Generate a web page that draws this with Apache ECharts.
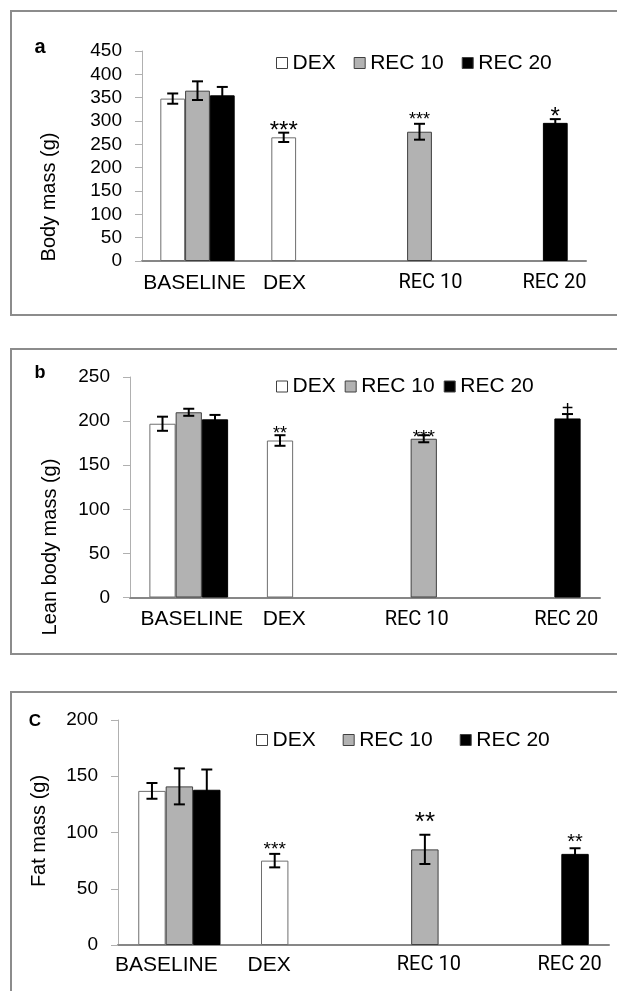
<!DOCTYPE html>
<html><head><meta charset="utf-8">
<script src="https://cdn.jsdelivr.net/npm/echarts@6/dist/echarts.min.js"></script>
<style>html,body{margin:0;padding:0;background:#fff;overflow:hidden}#c{width:617px;height:991px}</style>
</head><body><div id="c"></div>
<script>
// ---------- data ----------
const categories = ['BASELINE', 'DEX', 'REC 10', 'REC 20'];
const seriesNames = ['DEX', 'REC 10', 'REC 20'];

const ticksBody = [0, 50, 100, 150, 200, 250, 300, 350, 400, 450];
const ticksLean = [0, 50, 100, 150, 200, 250];
const ticksFat = [0, 50, 100, 150, 200];

const bodyDex = [348, 265, null, null];
const bodyDexErr = [11, 10, null, null];
const bodyRec10 = [365, null, 277, null];
const bodyRec10Err = [20, null, 17, null];
const bodyRec20 = [355, null, null, 296];
const bodyRec20Err = [18, null, null, 8];
const bodySig = [['', '***', '', ''], ['', '', '***', ''], ['', '', '', '*']];

const leanDex = [197, 178, null, null];
const leanDexErr = [8, 6, null, null];
const leanRec10 = [210, null, 180, null];
const leanRec10Err = [4, null, 4, null];
const leanRec20 = [202, null, null, 203];
const leanRec20Err = [5, null, null, 5];
const leanSig = [['', '**', '', ''], ['', '', '***', ''], ['', '', '', '+']];

const fatDex = [137, 75, null, null];
const fatDexErr = [7, 6, null, null];
const fatRec10 = [141, null, 85, null];
const fatRec10Err = [16, null, 13, null];
const fatRec20 = [138, null, null, 81];
const fatRec20Err = [18, null, null, 5];
const fatSig = [['', '***', '', ''], ['', '', '**', ''], ['', '', '', '**']];

// ---------- styles / layout ----------
const GAP = 0.33;
const FONT = "'Liberation Sans', Arial, sans-serif";
const FONT2 = "Roboto, 'Liberation Sans', sans-serif";
const panels = [
  { grid: {left: 142, top: 51, width: 444, height: 210}, ticks: ticksBody,
    vals: [bodyDex, bodyRec10, bodyRec20], errs: [bodyDexErr, bodyRec10Err, bodyRec20Err], sig: bodySig,
    sigFont: [24, 18, 24], sigOff: [1, 3.6, 1.3], shift: [-3, -24, 11, 24], labelMargin: 12,
    legend: {left: 276, top: 52.5, itemGap: 18},
    title: 'Body mass (g)', titlePos: [49, 197], letter: 'a', letterPos: [40, 47], letterSize: 20,
    box: [11, 11, 630, 304] },
  { grid: {left: 130, top: 377, width: 470, height: 220.5}, ticks: ticksLean,
    vals: [leanDex, leanRec10, leanRec20], errs: [leanDexErr, leanRec10Err, leanRec20Err], sig: leanSig,
    sigFont: [18, 19, 20], sigOff: [0.9, -2.2, 5], shift: [3, -22, -7, 25], labelMargin: 12,
    legend: {left: 276, top: 376, itemGap: 9},
    title: 'Lean body mass (g)', titlePos: [50, 547], letter: 'b', letterPos: [40, 373], letterSize: 18,
    box: [11, 349, 630, 305] },
  { grid: {left: 118, top: 720, width: 491, height: 225}, ticks: ticksFat,
    vals: [fatDex, fatRec10, fatRec20], errs: [fatDexErr, fatRec10Err, fatRec20Err], sig: fatSig,
    sigFont: [19, 26, 20], sigOff: [3.8, 11.6, 6], shift: [-13, -33, 4, 22], labelMargin: 10,
    legend: {left: 256, top: 729.5, itemGap: 27},
    title: 'Fat mass (g)', titlePos: [39, 831], letter: 'C', letterPos: [35, 721], letterSize: 17,
    box: [11, 692, 630, 320] }
];
const barStyles = [
  {color: '#ffffff', borderColor: '#6e6e6e', borderWidth: 1},
  {color: '#b2b2b2', borderColor: '#404040', borderWidth: 1},
  {color: '#000000', borderColor: '#000000', borderWidth: 1}
];

function errRender(p) {
  return function (params, api) {
    const cat = api.value(0), val = api.value(1), err = api.value(2), k = api.value(3);
    const band = api.size([1, 0])[0];
    const bw = band * (1 - GAP) / 3;
    const cx = api.coord([cat, val])[0] + (k - 1) * bw;
    const yTop = api.coord([cat, val + err])[1];
    const yBot = api.coord([cat, val - err])[1];
    const h = 5.5;
    const st = {stroke: '#000', lineWidth: 2};
    const children = [
      {type: 'line', shape: {x1: cx, y1: yTop, x2: cx, y2: yBot}, style: st},
      {type: 'line', shape: {x1: cx - h, y1: yTop, x2: cx + h, y2: yTop}, style: st},
      {type: 'line', shape: {x1: cx - h, y1: yBot, x2: cx + h, y2: yBot}, style: st}
    ];
    const s = p.sig[k][cat];
    if (s) {
      children.push({type: 'text', x: cx, y: yTop - p.sigOff[k],
        style: {text: s, fontSize: p.sigFont[k], fill: '#000', align: 'center', verticalAlign: 'middle', fontFamily: FONT}});
    }
    return {type: 'group', children: children};
  };
}

const option = {animation: false, grid: [], xAxis: [], yAxis: [], series: [], legend: [], graphic: []};

panels.forEach(function (p, i) {
  option.grid.push(Object.assign({containLabel: false, outerBoundsMode: 'none'}, p.grid));
  const rich = {};
  p.shift.forEach(function (s, j) {
    rich['s' + j] = {
      fontSize: j >= 2 ? 20 : 21, color: '#000', lineHeight: 20,
      fontFamily: j >= 2 ? FONT2 : FONT,
      padding: s < 0 ? [0, -2 * s, 0, 0] : [0, 0, 0, 2 * s]
    };
  });
  option.xAxis.push({
    type: 'category', gridIndex: i, data: categories,
    axisLine: {lineStyle: {color: '#878787', width: 2}},
    axisTick: {show: false},
    axisLabel: {interval: 0, margin: p.labelMargin, formatter: function (v, j) { return '{s' + j + '|' + v + '}'; }, rich: rich}
  });
  option.yAxis.push({
    type: 'value', gridIndex: i, min: p.ticks[0], max: p.ticks[p.ticks.length - 1], interval: p.ticks[1] - p.ticks[0],
    axisLine: {show: true, lineStyle: {color: '#b0b0b0', width: 1}},
    axisTick: {show: true, length: 7, lineStyle: {color: '#b0b0b0'}},
    splitLine: {show: false},
    axisLabel: {margin: 20, fontSize: 19, color: '#000', fontFamily: FONT}
  });
  seriesNames.forEach(function (n, k) {
    option.series.push({
      type: 'bar', name: n, xAxisIndex: i, yAxisIndex: i, data: p.vals[k],
      barGap: '0%', barCategoryGap: (GAP * 100) + '%', itemStyle: barStyles[k], silent: true
    });
  });
  const errData = [];
  p.vals.forEach(function (arr, k) {
    arr.forEach(function (v, c) { if (v != null) errData.push([c, v, p.errs[k][c], k]); });
  });
  option.series.push({
    type: 'custom', xAxisIndex: i, yAxisIndex: i, data: errData, encode: {x: 0, y: 1},
    renderItem: errRender(p), z: 5, silent: true
  });
  option.legend.push({
    left: p.legend.left, top: p.legend.top, itemGap: p.legend.itemGap, padding: 0,
    orient: 'horizontal', data: seriesNames, icon: 'rect', itemWidth: 11, itemHeight: 11,
    selectedMode: false,
    itemStyle: {borderColor: '#404040', borderWidth: 1},
    textStyle: {fontSize: 21, color: '#000', fontFamily: FONT}
  });
  option.graphic.push({type: 'rect', shape: {x: p.box[0], y: p.box[1], width: p.box[2], height: p.box[3]},
    style: {fill: 'none', stroke: '#8c8c8c', lineWidth: 2}, silent: true, z: -10});
  option.graphic.push({type: 'text', x: p.titlePos[0], y: p.titlePos[1], rotation: Math.PI / 2,
    style: {text: p.title, fontSize: 20, fill: '#000', fontFamily: FONT, align: 'center', verticalAlign: 'middle'}});
  option.graphic.push({type: 'text', x: p.letterPos[0], y: p.letterPos[1],
    style: {text: p.letter, fontSize: p.letterSize, fontWeight: 'bold', fill: '#000', fontFamily: FONT, align: 'center', verticalAlign: 'middle'}});
});

const chart = echarts.init(document.getElementById('c'), null, {renderer: 'canvas'});
chart.setOption(option);
</script>
</body></html>
